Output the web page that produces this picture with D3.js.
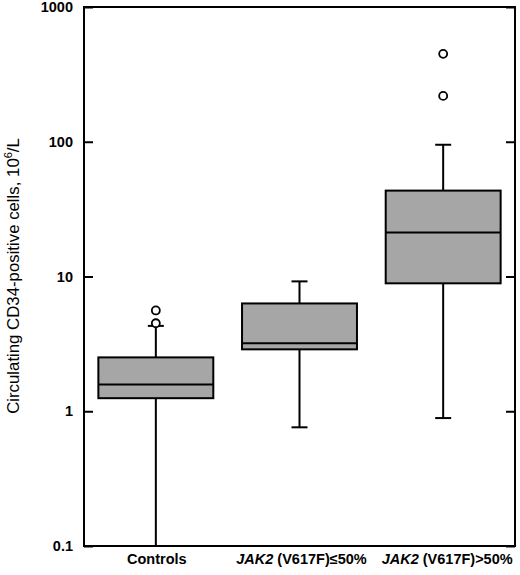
<!DOCTYPE html>
<html><head><meta charset="utf-8">
<script src="https://cdn.jsdelivr.net/npm/d3@7"></script>
<style>body{margin:0;background:#fff}svg{display:block}</style>
</head><body>
<svg id="c" width="520" height="575"></svg>
<script>
const categories = ["Controls", "JAK2≤", "JAK2>"];
const q1 = [1.25, 2.88, 8.9];
const median = [1.58, 3.19, 21.2];
const q3 = [2.51, 6.31, 43.4];
const whiskerLow = [0.1, 0.76, 0.89];
const whiskerHigh = [4.3, 9.2, 95];
const outliers = [[4.5, 5.6], [], [219, 449]];
const yTicks = [0.1, 1, 10, 100, 1000];

const W = 520, H = 575;
const m = {left: 84, top: 7, right: 5, bottom: 29};
const svg = d3.select("#c");
const x = d3.scaleBand().domain(categories).range([m.left, W - m.right]).paddingInner(0.2).paddingOuter(0.1);
const y = d3.scaleLog().domain([0.1, 1000]).range([H - m.bottom, m.top]);

const font = "'Liberation Sans', Arial, Helvetica, sans-serif";

// frame
svg.append("rect").attr("x", m.left).attr("y", m.top)
  .attr("width", W - m.right - m.left).attr("height", H - m.bottom - m.top)
  .attr("fill", "none").attr("stroke", "#000").attr("stroke-width", 2);

// left axis
const gl = svg.append("g").attr("transform", `translate(${m.left},0)`)
  .call(d3.axisRight(y).tickValues(yTicks).tickSize(9).tickFormat(""));
gl.select(".domain").remove();
gl.selectAll(".tick line").attr("stroke-width", 2);
// right axis
const gr = svg.append("g").attr("transform", `translate(${W - m.right},0)`)
  .call(d3.axisLeft(y).tickValues(yTicks).tickSize(9).tickFormat(""));
gr.select(".domain").remove();
gr.selectAll(".tick line").attr("stroke-width", 2);
// tick labels
svg.append("g").selectAll("text").data(yTicks).join("text")
  .attr("x", 73).attr("y", d => y(d)).attr("dy", "0.36em")
  .attr("text-anchor", "end").attr("font-family", font)
  .attr("font-weight", "bold").attr("font-size", 14.5)
  .text(d => d3.format("~g")(d));

// boxes
const bw = x.bandwidth();
const g = svg.append("g");
categories.forEach((c, i) => {
  const cx = x(c) + bw / 2;
  const capW = 16;
  g.append("line").attr("x1", cx).attr("x2", cx).attr("y1", y(q3[i])).attr("y2", y(whiskerHigh[i]))
    .attr("stroke", "#000").attr("stroke-width", 2);
  g.append("line").attr("x1", cx).attr("x2", cx).attr("y1", y(q1[i])).attr("y2", y(whiskerLow[i]))
    .attr("stroke", "#000").attr("stroke-width", 2);
  g.append("line").attr("x1", cx - capW/2).attr("x2", cx + capW/2).attr("y1", y(whiskerHigh[i])).attr("y2", y(whiskerHigh[i]))
    .attr("stroke", "#000").attr("stroke-width", 2);
  g.append("line").attr("x1", cx - capW/2).attr("x2", cx + capW/2).attr("y1", y(whiskerLow[i])).attr("y2", y(whiskerLow[i]))
    .attr("stroke", "#000").attr("stroke-width", 2);
  g.append("rect").attr("x", x(c)).attr("width", bw).attr("y", y(q3[i])).attr("height", y(q1[i]) - y(q3[i]))
    .attr("fill", "#a6a6a6").attr("stroke", "#000").attr("stroke-width", 2);
  g.append("line").attr("x1", x(c)).attr("x2", x(c) + bw).attr("y1", y(median[i])).attr("y2", y(median[i]))
    .attr("stroke", "#000").attr("stroke-width", 2);
  g.selectAll(null).data(outliers[i]).join("circle")
    .attr("cx", cx).attr("cy", d => y(d)).attr("r", 4)
    .attr("fill", "#fff").attr("stroke", "#000").attr("stroke-width", 1.8);
});

// x labels
const labelY = 564;
const xl = svg.append("g").attr("font-family", font).attr("font-size", 14.5).attr("font-weight", "bold");
xl.append("text").attr("x", x(categories[0]) + bw/2 + 1).attr("y", labelY).attr("text-anchor", "middle").text("Controls");
const t2 = xl.append("text").attr("x", x(categories[1]) + bw/2 + 2).attr("y", labelY).attr("text-anchor", "middle");
t2.append("tspan").attr("font-style", "italic").text("JAK2");
t2.append("tspan").text(" (V617F)≤50%");
const t3 = xl.append("text").attr("x", x(categories[2]) + bw/2 + 4).attr("y", labelY).attr("text-anchor", "middle");
t3.append("tspan").attr("font-style", "italic").text("JAK2");
t3.append("tspan").text(" (V617F)>50%");

// y title
const yt = svg.append("text").attr("transform", `translate(19,${276}) rotate(-90)`)
  .attr("text-anchor", "middle").attr("font-family", font).attr("font-size", 16.8);
yt.append("tspan").text("Circulating CD34-positive cells, 10");
yt.append("tspan").attr("font-size", 11).attr("dy", -7).text("6");
yt.append("tspan").attr("dy", 7).text("/L");
</script>
</body></html>
